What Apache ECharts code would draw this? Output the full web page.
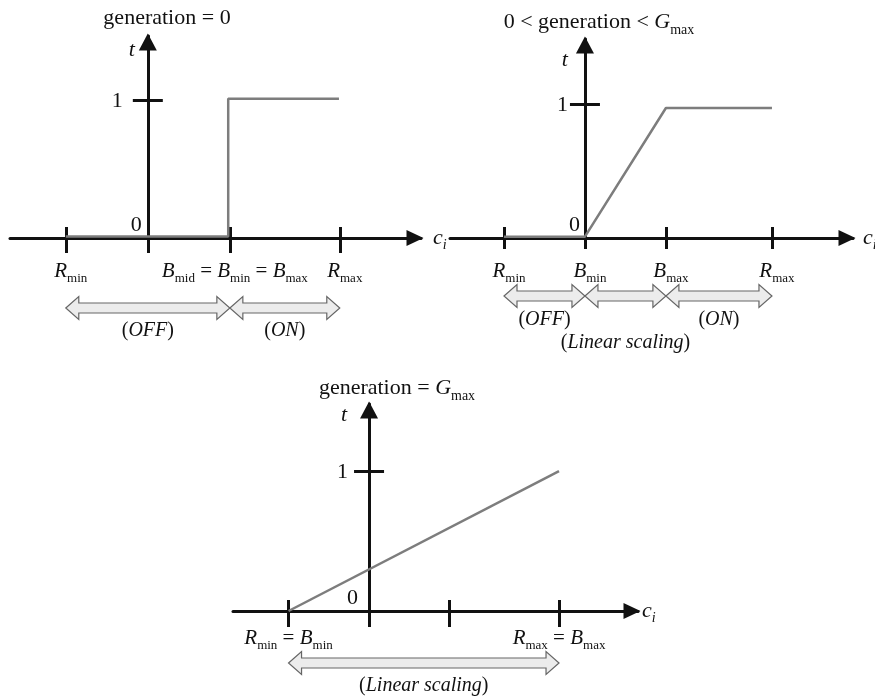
<!DOCTYPE html>
<html>
<head>
<meta charset="utf-8">
<title>Threshold schedule over generations</title>
<script src="https://cdn.jsdelivr.net/npm/echarts@6/dist/echarts.min.js"></script>
<style>
  html, body { margin: 0; padding: 0; background: #fff; }
  #chart { width: 875px; height: 700px; }
</style>
</head>
<body>
<div id="chart"></div>
<script>
// text markup: *x* = italic, _x = subscript, __x = italic subscript

// panel 1: generation = 0
const p1Title = 'generation = 0'
const p1Ticks = [-1, 0, 1, 2.34]
const p1LabelValues = [-1, 1, 2.34]
const p1Labels = ['*R*_min', '*B*_mid = *B*_min = *B*_max', '*R*_max']
const p1CurveX = [-1, 0.98, 0.98, 2.33]
const p1CurveY = [0.01, 0.01, 1.01, 1.01]
const p1Ranges = [[-1, 1], [1, 2.34]]
const p1RangeLabels = ['(*OFF*)', '(*ON*)']

// panel 2: 0 < generation < Gmax
const p2Title = '0 < generation < *G*_max'
const p2Ticks = [-1, 0, 1, 2.31]
const p2LabelValues = [-1, 0, 1, 2.31]
const p2Labels = ['*R*_min', '*B*_min', '*B*_max', '*R*_max']
const p2CurveX = [-1, 0, 1, 2.31]
const p2CurveY = [0.01, 0.01, 0.97, 0.97]
const p2Ranges = [[-1, 0], [0, 1], [1, 2.31]]
const p2RangeLabels = ['(*OFF*)', '(*Linear scaling*)', '(*ON*)']

// panel 3: generation = Gmax
const p3Title = 'generation = *G*_max'
const p3Ticks = [-1, 0, 1, 2.36]
const p3LabelValues = [-1, 2.36]
const p3Labels = ['*R*_min = *B*_min', '*R*_max = *B*_max']
const p3CurveX = [-1, 2.36]
const p3CurveY = [0, 1]
const p3Ranges = [[-1, 2.36]]
const p3RangeLabels = ['(*Linear scaling*)']

const yTicks = [1]
const yTickLabels = ['1']
const originLabel = '0'
const xName = '*c*__i'
const yName = '*t*'

const serif = '"Liberation Serif", "DejaVu Serif", serif'
const ink = '#111'
const curveColor = '#7d7d7d'

const fmt = s => s
  .replace(/__(\w+)/g, '{isub|$1}')
  .replace(/_(\w+)/g, '{sub|$1}')
  .replace(/\*([^*]+)\*/g, '{it|$1}')

// colorKey: 'color' for echarts text styles, 'fill' for raw custom graphics
const richStyles = (size, colorKey = 'color') => {
  const sub = Math.round(size * 0.64)
  return {
    it: { fontFamily: serif, fontStyle: 'italic', fontSize: size, [colorKey]: ink },
    sub: { fontFamily: serif, fontSize: sub, [colorKey]: ink, verticalAlign: 'bottom' },
    isub: { fontFamily: serif, fontStyle: 'italic', fontSize: sub, [colorKey]: ink, verticalAlign: 'bottom' }
  }
}
const textStyle = size => ({
  fontFamily: serif, fontSize: size, color: ink,
  lineHeight: Math.round(size * 1.3), rich: richStyles(size)
})

const panels = [
  { title: p1Title, ticks: p1Ticks, labelValues: p1LabelValues, labels: p1Labels, cx: p1CurveX, cy: p1CurveY, ranges: p1Ranges, rangeLabels: p1RangeLabels },
  { title: p2Title, ticks: p2Ticks, labelValues: p2LabelValues, labels: p2Labels, cx: p2CurveX, cy: p2CurveY, ranges: p2Ranges, rangeLabels: p2RangeLabels },
  { title: p3Title, ticks: p3Ticks, labelValues: p3LabelValues, labels: p3Labels, cx: p3CurveX, cy: p3CurveY, ranges: p3Ranges, rangeLabels: p3RangeLabels }
]

// layout / style per panel (grid bottom sits on the c_i axis, grid edges at the arrow tips)
const layouts = [
  { grid: { left: 10, top: 36, width: 411, height: 202 }, x: [-1.68, 3.33], y: [0, 1.464],
    titleX: 167, titleY: 4, labelMargin: 20, labelShift: 10, tickDown: 15, tickUp: 11,
    oneMargin: 25, zeroPad: 6, tGap: -14, tPad: 13, cGap: 12, arrowDy: 70, textDy: [93, 93] },
  { grid: { left: 450, top: 39, width: 403, height: 199 }, x: [-1.667, 3.311], y: [0, 1.485],
    titleX: 599, titleY: 8, labelMargin: 20, labelShift: 10, tickDown: 11, tickUp: 11,
    oneMargin: 17, zeroPad: 5, tGap: -21, tPad: 17, cGap: 10, arrowDy: 58, textDy: [82, 105, 82] },
  { grid: { left: 233, top: 404, width: 405, height: 207 }, x: [-1.69, 3.341], y: [0, 1.479],
    titleX: 397, titleY: 374, labelMargin: 14, labelShift: 0, tickDown: 16, tickUp: 11,
    oneMargin: 21, zeroPad: 11, tGap: -11, tPad: 22, cGap: 4, arrowDy: 52, textDy: [75] }
]

const axisLineStyle = { color: ink, width: 3 }
const pick = (values, list, v) => list[values.findIndex(u => Math.abs(u - v) < 1e-9)] || ''

const grid = [], xAxis = [], yAxis = [], series = [], title = []

panels.forEach((p, g) => {
  const L = layouts[g]
  grid.push({ ...L.grid, containLabel: false, outerBoundsMode: 'none' })

  title.push({
    text: fmt(p.title), left: L.titleX, top: L.titleY, textAlign: 'center', padding: 0,
    textStyle: { ...textStyle(22), fontWeight: 'normal' }
  })

  // main x axis: line + arrow + downward ticks + labels
  xAxis.push({
    type: 'value', gridIndex: g, position: 'bottom', min: L.x[0], max: L.x[1],
    axisLine: {
      onZero: true, symbol: ['none', 'triangle'], symbolSize: [16, 17], symbolOffset: [0, -6],
      lineStyle: axisLineStyle
    },
    axisTick: { show: true, customValues: p.ticks, length: L.tickDown, lineStyle: axisLineStyle },
    axisLabel: {
      customValues: p.labelValues, formatter: v => fmt(pick(p.labelValues, p.labels, v)),
      margin: L.labelMargin, padding: [0, 0, 0, L.labelShift], ...textStyle(21)
    },
    splitLine: { show: false },
    name: fmt(xName), nameLocation: 'end', nameGap: L.cGap, nameMoveOverlap: false,
    nameTextStyle: { ...textStyle(22), align: 'left', verticalAlign: 'middle' }
  })
  // twin x axis: upward half of the ticks
  xAxis.push({
    type: 'value', gridIndex: g, position: 'top', min: L.x[0], max: L.x[1],
    axisLine: { show: false, onZero: true },
    axisTick: { show: true, customValues: p.ticks.filter(v => v !== 0), length: L.tickUp, lineStyle: axisLineStyle },
    axisLabel: { show: false },
    splitLine: { show: false }
  })
  yAxis.push({
    type: 'value', gridIndex: g, position: 'left', min: L.y[0], max: L.y[1],
    axisLine: {
      onZero: true, symbol: ['none', 'triangle'], symbolSize: [18, 17], symbolOffset: [0, -6],
      lineStyle: axisLineStyle
    },
    axisTick: { show: true, customValues: yTicks, length: 15, lineStyle: axisLineStyle },
    axisLabel: { show: false },
    splitLine: { show: false },
    name: fmt(yName), nameLocation: 'end', nameGap: L.tGap, nameMoveOverlap: false,
    nameTextStyle: { ...textStyle(22), align: 'right', verticalAlign: 'middle', padding: [0, L.tPad, 0, 0] }
  })
  yAxis.push({
    type: 'value', gridIndex: g, position: 'right', min: L.y[0], max: L.y[1],
    axisLine: { show: false, onZero: true },
    axisTick: { show: true, customValues: yTicks, length: 15, lineStyle: axisLineStyle },
    axisLabel: { show: false },
    splitLine: { show: false }
  })

  series.push({
    type: 'line', xAxisIndex: 2 * g, yAxisIndex: 2 * g, z: 5, silent: true,
    data: p.cx.map((x, i) => [x, p.cy[i]]),
    symbol: 'none', lineStyle: { color: curveColor, width: 2.5 }
  })

  // t-axis numbers: origin "0" and the tick labels, placed left of the t axis
  const numTexts = [originLabel, ...yTickLabels]
  series.push({
    type: 'custom', xAxisIndex: 2 * g, yAxisIndex: 2 * g, silent: true, clip: false, z: 6,
    data: [[0, 0, 0], ...yTicks.map((v, i) => [0, v, i + 1])],
    renderItem: (params, api) => {
      const i = api.value(2)
      const pt = api.coord([api.value(0), api.value(1)])
      const isOrigin = i === 0
      return {
        type: 'text',
        x: pt[0] - (isOrigin ? L.zeroPad : L.oneMargin),
        y: isOrigin ? pt[1] - 2 : pt[1] + 1,
        style: {
          text: numTexts[i], align: 'right', verticalAlign: isOrigin ? 'bottom' : 'middle',
          fontFamily: serif, fontSize: 22, fill: ink
        }
      }
    }
  })

  // double arrows under the axis, one per range
  series.push({
    type: 'custom', xAxisIndex: 2 * g, yAxisIndex: 2 * g, silent: true, clip: false, z: 4,
    data: p.ranges.map((r, i) => [r[0], r[1], i]),
    encode: { x: [0, 1] },
    renderItem: (params, api) => {
      const a = api.coord([api.value(0), 0])
      const b = api.coord([api.value(1), 0])
      const i = api.value(2)
      const y = a[1] + L.arrowDy
      const x1 = a[0], x2 = b[0]
      const head = 13, hh = 11.5, sh = 5
      const points = [
        [x1, y], [x1 + head, y - hh], [x1 + head, y - sh], [x2 - head, y - sh], [x2 - head, y - hh],
        [x2, y], [x2 - head, y + hh], [x2 - head, y + sh], [x1 + head, y + sh], [x1 + head, y + hh]
      ]
      return {
        type: 'group',
        children: [
          { type: 'polygon', shape: { points }, style: { fill: '#ececec', stroke: '#666', lineWidth: 1.2 } },
          {
            type: 'text', x: (x1 + x2) / 2, y: a[1] + L.textDy[i],
            style: {
              text: fmt(p.rangeLabels[i]), align: 'center', verticalAlign: 'middle',
              fontFamily: serif, fontSize: 20, fill: ink, lineHeight: 26, rich: richStyles(20, 'fill')
            }
          }
        ]
      }
    }
  })
})

const chart = echarts.init(document.getElementById('chart'))
chart.setOption({
  backgroundColor: '#fff',
  animation: false,
  title, grid, xAxis, yAxis, series
})

window.addEventListener('resize', () => chart.resize())
</script>
</body>
</html>
